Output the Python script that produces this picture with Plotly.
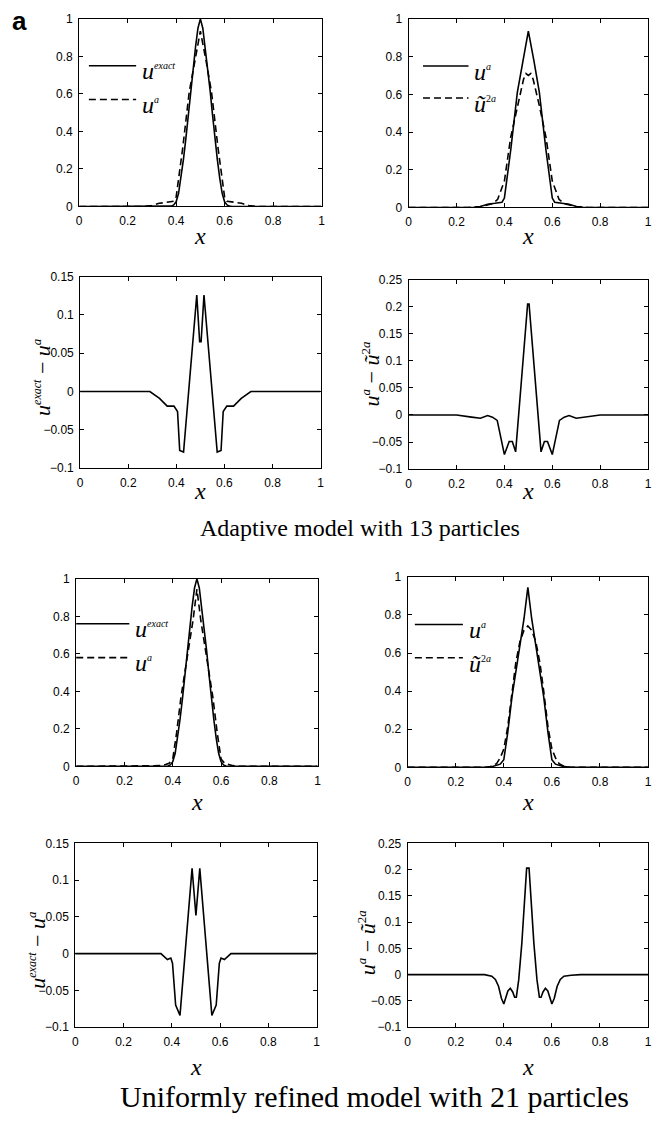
import plotly.graph_objects as go

# ---------------- data ----------------
x_ticks = [0, 0.2, 0.4, 0.6, 0.8, 1]
x_tick_text = ["0", "0.2", "0.4", "0.6", "0.8", "1"]
u_ticks = [0, 0.2, 0.4, 0.6, 0.8, 1]
u_tick_text = ["0", "0.2", "0.4", "0.6", "0.8", "1"]
d1_ticks = [-0.1, -0.05, 0, 0.05, 0.1, 0.15]
d1_tick_text = ["\u22120.1", "\u22120.05", "0", "0.05", "0.1", "0.15"]
d2_ticks = [-0.1, -0.05, 0, 0.05, 0.1, 0.15, 0.2, 0.25]
d2_tick_text = ["\u22120.1", "\u22120.05", "0", "0.05", "0.1", "0.15", "0.2", "0.25"]

# exact solution
x_exact = [0, 0.37, 0.38, 0.39, 0.40, 0.41, 0.42, 0.43, 0.44, 0.45, 0.46, 0.47, 0.48, 0.49, 0.50,
           0.51, 0.52, 0.53, 0.54, 0.55, 0.56, 0.57, 0.58, 0.59, 0.60, 0.61, 0.62, 0.63, 1]
u_exact = [0, 0, 0.002, 0.008, 0.025, 0.07, 0.15, 0.25, 0.36, 0.49, 0.62, 0.74, 0.85, 0.95, 1.0,
           0.95, 0.85, 0.74, 0.62, 0.49, 0.36, 0.25, 0.15, 0.07, 0.025, 0.008, 0.002, 0, 0]

# adaptive model, 13 particles
x_ua13 = [0, 0.27, 0.30, 0.33, 0.36, 0.39, 0.40, 0.427, 0.454, 0.477, 0.50,
          0.523, 0.546, 0.573, 0.60, 0.61, 0.64, 0.67, 0.70, 0.73, 1]
ua13 = [0, 0, 0.005, 0.017, 0.022, 0.028, 0.05, 0.31, 0.61, 0.78, 0.935,
        0.78, 0.61, 0.31, 0.05, 0.028, 0.022, 0.017, 0.005, 0, 0]
x_u2a13 = [0, 0.25, 0.30, 0.35, 0.372, 0.40, 0.426, 0.454, 0.48, 0.49, 0.50,
           0.51, 0.52, 0.546, 0.574, 0.60, 0.628, 0.65, 0.70, 0.75, 1]
u2a13 = [0, 0, 0.005, 0.02, 0.043, 0.14, 0.37, 0.54, 0.68, 0.71, 0.70,
         0.71, 0.68, 0.54, 0.37, 0.14, 0.043, 0.02, 0.005, 0, 0]
x_err13 = [0, 0.29, 0.33, 0.362, 0.39, 0.405, 0.414, 0.43, 0.485, 0.497, 0.503,
           0.515, 0.57, 0.586, 0.595, 0.61, 0.638, 0.67, 0.71, 1]
err13 = [0, 0, -0.009, -0.019, -0.019, -0.026, -0.077, -0.079, 0.126, 0.065, 0.065,
         0.126, -0.079, -0.077, -0.026, -0.019, -0.019, -0.009, 0, 0]
x_ref13 = [0, 0.2, 0.263, 0.30, 0.33, 0.35, 0.37, 0.40, 0.42, 0.433, 0.447, 0.497,
           0.503, 0.553, 0.567, 0.58, 0.60, 0.63, 0.65, 0.67, 0.70, 0.737, 0.8, 1]
ref13 = [0, 0, -0.004, -0.006, -0.001, -0.004, -0.01, -0.073, -0.049, -0.049, -0.068, 0.205,
         0.205, -0.068, -0.049, -0.049, -0.073, -0.01, -0.004, -0.001, -0.006, -0.004, 0, 0]

# uniformly refined model, 21 particles
x_ua21 = [0, 0.32, 0.35, 0.37, 0.385, 0.40, 0.416, 0.434, 0.45, 0.467, 0.484, 0.50,
          0.516, 0.533, 0.55, 0.566, 0.584, 0.60, 0.615, 0.63, 0.65, 0.68, 1]
ua21 = [0, 0, 0.004, 0.01, 0.017, 0.04, 0.18, 0.37, 0.51, 0.64, 0.78, 0.945,
        0.78, 0.64, 0.51, 0.37, 0.18, 0.04, 0.017, 0.01, 0.004, 0, 0]
x_u2a21 = [0, 0.33, 0.35, 0.37, 0.385, 0.40, 0.416, 0.434, 0.45, 0.467, 0.484, 0.50,
           0.516, 0.533, 0.55, 0.566, 0.584, 0.60, 0.615, 0.63, 0.65, 0.67, 1]
u2a21 = [0, 0, 0.006, 0.02, 0.05, 0.096, 0.21, 0.40, 0.55, 0.66, 0.72, 0.742,
         0.72, 0.66, 0.55, 0.40, 0.21, 0.096, 0.05, 0.02, 0.006, 0, 0]
x_err21 = [0, 0.355, 0.382, 0.396, 0.403, 0.416, 0.434, 0.484, 0.50, 0.516, 0.566,
           0.584, 0.597, 0.604, 0.618, 0.645, 1]
err21 = [0, 0, -0.008, -0.006, -0.013, -0.07, -0.084, 0.116, 0.052, 0.116, -0.084,
         -0.07, -0.013, -0.006, -0.008, 0, 0]
x_ref21 = [0, 0.32, 0.35, 0.365, 0.378, 0.39, 0.40, 0.408, 0.417, 0.427, 0.437, 0.445, 0.452,
           0.462, 0.475, 0.495, 0.505, 0.525, 0.538, 0.548, 0.555, 0.563, 0.573, 0.583,
           0.592, 0.60, 0.61, 0.622, 0.635, 0.65, 0.68, 0.72, 1]
ref21 = [0, 0, -0.003, -0.009, -0.022, -0.045, -0.056, -0.045, -0.031, -0.026, -0.033, -0.043,
         -0.043, -0.01, 0.06, 0.203, 0.203, 0.06, -0.01, -0.043, -0.043, -0.033, -0.026,
         -0.031, -0.045, -0.056, -0.045, -0.022, -0.009, -0.003, -0.001, 0, 0]

captions = ["Adaptive model with 13 particles", "Uniformly refined model with 21 particles"]

# ---------------- layout geometry (pixels) ----------------
W, H = 657, 1124
SANS = "Liberation Sans, Arial, Helvetica, sans-serif"
SERIF = "Liberation Serif, Times New Roman, Times, serif"

# (left, right, top, bottom) in pixels for each of the 8 panels
boxes = {
    1: (77, 322, 12, 202),
    2: (410, 652, 12, 203),
    3: (78, 321, 273, 467),
    4: (410, 652, 276, 468),
    5: (74, 318, 579, 769),
    6: (409, 652, 577, 770),
    7: (73, 317, 847, 1033),
    8: (409, 652, 847, 1033),
}
yspec = {
    1: ([0, 1], u_ticks, u_tick_text),
    2: ([0, 1], u_ticks, u_tick_text),
    3: ([-0.1, 0.15], d1_ticks, d1_tick_text),
    4: ([-0.1, 0.25], d2_ticks, d2_tick_text),
    5: ([0, 1], u_ticks, u_tick_text),
    6: ([0, 1], u_ticks, u_tick_text),
    7: ([-0.1, 0.15], d1_ticks, d1_tick_text),
    8: ([-0.1, 0.25], d2_ticks, d2_tick_text),
}

fig = go.Figure()
LW = 1.6
DASH = "7px,4px"

def add_line(n, xs, ys, dash=None):
    fig.add_trace(go.Scatter(
        x=xs, y=ys, mode="lines",
        line=dict(color="black", width=LW, dash=dash if dash else "solid"),
        xaxis="x" if n == 1 else f"x{n}", yaxis="y" if n == 1 else f"y{n}",
        showlegend=False, hoverinfo="skip"))

add_line(1, x_exact, u_exact)
add_line(1, x_ua13, ua13, DASH)
add_line(2, x_ua13, ua13)
add_line(2, x_u2a13, u2a13, DASH)
add_line(3, x_err13, err13)
add_line(4, x_ref13, ref13)
add_line(5, x_exact, u_exact)
add_line(5, x_ua21, ua21, DASH)
add_line(6, x_ua21, ua21)
add_line(6, x_u2a21, u2a21, DASH)
add_line(7, x_err21, err21)
add_line(8, x_ref21, ref21)

layout = dict(
    width=W, height=H, margin=dict(l=0, r=0, t=0, b=0),
    paper_bgcolor="white", plot_bgcolor="white", showlegend=False,
)
axis_common = dict(showgrid=False, zeroline=False, showline=True, linecolor="black",
                   linewidth=1, mirror="allticks", ticks="inside", ticklen=4,
                   tickcolor="black", tickwidth=1, ticklabelstandoff=3,
                   tickfont=dict(family=SANS, size=12, color="black"))
for n, (l, r, t, b) in boxes.items():
    xs = "" if n == 1 else str(n)
    rng, tv, tt = yspec[n]
    layout[f"xaxis{xs}"] = dict(axis_common, domain=[l / W, r / W], range=[0, 1],
                                tickvals=x_ticks, ticktext=x_tick_text,
                                anchor=f"y{xs}")
    layout[f"yaxis{xs}"] = dict(axis_common, domain=[1 - b / H, 1 - t / H], range=rng,
                                tickvals=tv, ticktext=tt, anchor=f"x{xs}")
fig.update_layout(**layout)

ann = []
shapes = []

# x-axis labels
xlab_y = {1: 232, 2: 232, 3: 490, 4: 490, 5: 805, 6: 805, 7: 1073, 8: 1073}
for n, (l, r, t, b) in boxes.items():
    ann.append(dict(text="<i>x</i>", x=(l + r) / 2 / W, y=1 - xlab_y[n] / H,
                    xref="paper", yref="paper", showarrow=False,
                    font=dict(family=SERIF, size=24, color="black"),
                    xanchor="center", yanchor="middle"))

def sp(s, size):
    return f"<sup><span style='font-size:{size}px'>{s}</span></sup>"

# y-axis labels of the error panels
t_err = "<i>u</i>" + sp("<i>exact</i>", 12) + " \u2212 <i>u</i>" + sp("<i>a</i>", 13)
t_ref = "<i>u</i>" + sp("<i>a</i>", 13) + " \u2212 <i>\u0169</i>" + sp("2<i>a</i>", 13)
for text, px, py in [(t_err, 40, 375), (t_ref, 372, 372), (t_err, 34, 955), (t_ref, 368, 948)]:
    ann.append(dict(text=text, x=px / W, y=1 - py / H, xref="paper", yref="paper",
                    showarrow=False, textangle=-90,
                    font=dict(family=SERIF, size=22, color="black"),
                    xanchor="center", yanchor="middle"))

# in-panel legends: (panel, x0, x1 in axis-domain fraction, y solid, y dashed, label1, label2)
lab_exact = "<i>u</i>" + sp("<i>exact</i>", 10)
lab_a = "<i>u</i>" + sp("<i>a</i>", 10)
lab_2a = "<i>\u0169</i>" + sp("2<i>a</i>", 10)
legends = [
    (1, 0.04, 0.235, 0.75, 0.57, lab_exact, lab_a),
    (2, 0.06, 0.25, 0.75, 0.58, lab_a, lab_2a),
    (5, 0.00, 0.22, 0.76, 0.58, lab_exact, lab_a),
    (6, 0.03, 0.23, 0.75, 0.575, lab_a, lab_2a),
]
for n, x0, x1, ys, yd, l1, l2 in legends:
    xs = "" if n == 1 else str(n)
    for yy, dash, lab in [(ys, "solid", l1), (yd, DASH, l2)]:
        shapes.append(dict(type="line", xref=f"x{xs} domain", yref=f"y{xs}",
                           x0=x0, x1=x1, y0=yy, y1=yy,
                           line=dict(color="black", width=LW, dash=dash)))
        ann.append(dict(text=lab, xref=f"x{xs} domain", yref=f"y{xs}",
                        x=x1 + 0.015, y=yy - 0.03, showarrow=False,
                        xanchor="left", yanchor="middle",
                        font=dict(family=SERIF, size=24, color="black")))

# captions and panel letter
ann.append(dict(text=captions[0], x=361 / W, y=1 - 528 / H, xref="paper", yref="paper",
                showarrow=False, font=dict(family=SERIF, size=24, color="black"),
                xanchor="center", yanchor="middle"))
ann.append(dict(text=captions[1], x=376 / W, y=1 - 1103 / H, xref="paper", yref="paper",
                showarrow=False, font=dict(family=SERIF, size=30, color="black"),
                xanchor="center", yanchor="middle"))
ann.append(dict(text="<b>a</b>", x=17 / W, y=1 - 14 / H, xref="paper", yref="paper",
                showarrow=False, font=dict(family=SANS, size=26, color="black"),
                xanchor="center", yanchor="middle"))

fig.update_layout(annotations=ann, shapes=shapes)
fig.write_html("out.html", config={"displayModeBar": False},
               post_script="document.body.style.margin='0px';")
